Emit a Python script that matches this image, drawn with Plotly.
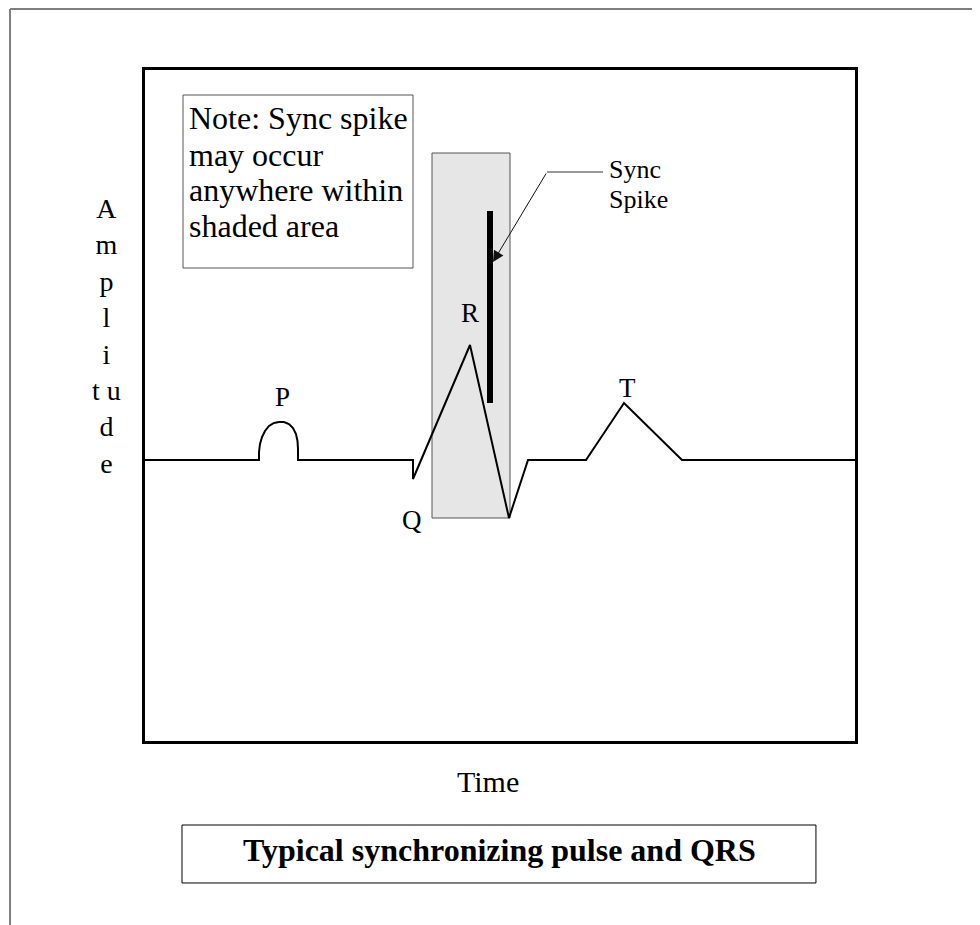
import plotly.graph_objects as go

# ---------------- data (arbitrary units: time / amplitude) ----------------
ecg_time = [0, 114, 114, 115, 117, 120, 124, 129, 134, 139, 144, 148, 151, 152.5, 153, 153,
            268, 268, 325, 364, 383, 441, 479, 537, 710]
ecg_amp = [281, 281, 289, 297, 304, 310, 315, 318, 319, 319, 317, 313, 307, 300, 292, 281,
           281, 262, 396, 223, 281, 281, 338, 281, 281]

wave_labels = ["P", "Q", "R", "T"]
wave_label_time = [137, 267, 325, 482]
wave_label_amp = [344.5, 221.5, 428.5, 353.5]

shaded_time = [287, 365]      # window in which the sync spike may occur
shaded_amp = [223, 588]

spike_time = [345, 345]
spike_amp = [338, 530]

leader_time = [458, 402]
leader_amp = [569, 569]
arrow_tip = [348, 479]

note_lines = ["Note: Sync spike", "may occur", "anywhere within", "shaded area"]
note_line_amp = [622.9, 585.9, 550.9, 514.9]
note_box_time = [38, 268]
note_box_amp = [473, 646]

sync_lines = ["Sync", "Spike"]
sync_line_amp = [571.8, 541.8]

x_range = [0, 710]
y_range = [0, 671]

FONT = "Liberation Serif, Times New Roman, serif"

fig = go.Figure()

# shaded window
fig.add_shape(type="rect", xref="x", yref="y",
              x0=shaded_time[0], x1=shaded_time[1], y0=shaded_amp[0], y1=shaded_amp[1],
              fillcolor="#e6e6e6", line=dict(color="#555555", width=1), layer="below")
# note box
fig.add_shape(type="rect", xref="x", yref="y",
              x0=note_box_time[0], x1=note_box_time[1], y0=note_box_amp[0], y1=note_box_amp[1],
              fillcolor="white", line=dict(color="#555555", width=1), layer="below")

# ECG waveform
fig.add_trace(go.Scatter(x=ecg_time, y=ecg_amp, mode="lines",
                         line=dict(color="black", width=2), hoverinfo="skip"))
# sync spike
fig.add_trace(go.Scatter(x=spike_time, y=spike_amp, mode="lines",
                         line=dict(color="black", width=6), hoverinfo="skip"))
# leader line
fig.add_trace(go.Scatter(x=leader_time, y=leader_amp, mode="lines",
                         line=dict(color="#333333", width=1), hoverinfo="skip"))
fig.add_annotation(x=arrow_tip[0], y=arrow_tip[1], xref="x", yref="y",
                   ax=leader_time[1], ay=leader_amp[1], axref="x", ayref="y",
                   text="", showarrow=True, arrowhead=2, arrowsize=2.2,
                   arrowwidth=1, arrowcolor="#111111", standoff=0)

# wave labels
for lab, tx, ty in zip(wave_labels, wave_label_time, wave_label_amp):
    fig.add_annotation(x=tx, y=ty, xref="x", yref="y", text=lab, showarrow=False,
                       xanchor="center", yanchor="middle",
                       font=dict(family=FONT, size=27, color="black"))

# note text
for line, ty in zip(note_lines, note_line_amp):
    fig.add_annotation(x=note_box_time[0] + 4, y=ty, xref="x", yref="y", text=line,
                       showarrow=False, xanchor="left", yanchor="middle",
                       font=dict(family=FONT, size=32, color="black"))

# sync spike text
for line, ty in zip(sync_lines, sync_line_amp):
    fig.add_annotation(x=leader_time[0] + 4, y=ty, xref="x", yref="y", text=line,
                       showarrow=False, xanchor="left", yanchor="middle",
                       font=dict(family=FONT, size=26, color="black"))

# vertical "Amplitude" axis title
fig.add_annotation(x=-0.0549, y=0.8197, xref="paper", yref="paper",
                   text="A<br>m<br>p<br>l<br>i<br>t u<br>d<br>e", showarrow=False,
                   xanchor="center", yanchor="top", align="center",
                   font=dict(family=FONT, size=28, color="black"))
# "Time" axis title
fig.add_annotation(x=0.4831, y=-0.0611, xref="paper", yref="paper", text="Time",
                   showarrow=False, xanchor="center", yanchor="middle",
                   font=dict(family=FONT, size=30, color="black"))

# caption box + caption
fig.add_shape(type="rect", xref="paper", yref="paper",
              x0=0.0521, x1=0.945, y0=-0.2116, y1=-0.1252,
              fillcolor="white", line=dict(color="black", width=1))
fig.add_annotation(x=0.4986, y=-0.1624, xref="paper", yref="paper",
                   text="<b>Typical synchronizing pulse and QRS</b>", showarrow=False,
                   xanchor="center", yanchor="middle",
                   font=dict(family=FONT, size=32, color="black"))

# outer page border (top and left edges visible)
fig.add_shape(type="line", xref="paper", yref="paper",
              x0=-0.1901, x1=1.25, y0=1.0909, y1=1.0909,
              line=dict(color="#7f7f7f", width=2))
fig.add_shape(type="line", xref="paper", yref="paper",
              x0=-0.1901, x1=-0.1901, y0=1.0909, y1=-0.35,
              line=dict(color="#7f7f7f", width=2))

axis_common = dict(showgrid=False, zeroline=False, showticklabels=False, ticks="",
                   showline=True, mirror=True, linecolor="black", linewidth=3,
                   fixedrange=True)
fig.update_xaxes(range=x_range, **axis_common)
fig.update_yaxes(range=y_range, **axis_common)

# the page body adds an 8px margin, so the figure is 8px smaller than the window
fig.update_layout(width=972, height=917, autosize=False,
                  margin=dict(l=137, r=125, t=62, b=184, pad=0),
                  paper_bgcolor="white", plot_bgcolor="white",
                  showlegend=False)

fig.write_html("out.html", config={"displayModeBar": False})
